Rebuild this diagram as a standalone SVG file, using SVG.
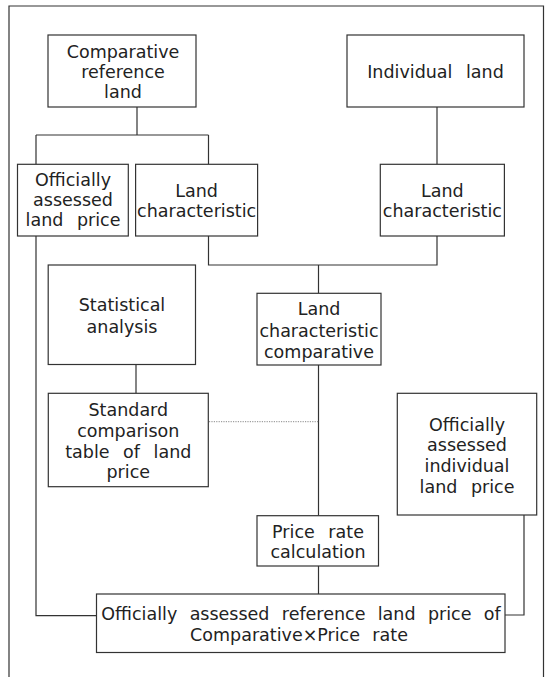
<svg xmlns="http://www.w3.org/2000/svg" width="548" height="677" viewBox="0 0 548 677">
<style>
.box{fill:#fff;stroke:#333;stroke-width:1.2}
.ln{fill:none;stroke:#333;stroke-width:1.2}
.dot{fill:none;stroke:#888;stroke-width:1;stroke-dasharray:1.2 1.2}
text{font-family:"DejaVu Sans","Noto Sans",sans-serif;font-size:17.5px;fill:#222;text-anchor:middle;word-spacing:8px}
.wide{word-spacing:6.8px}
</style>
<rect width="548" height="677" fill="#fff"/>
<path class="ln" d="M9,690 V6 H543.5 V690"/>
<g id="connectors">
<path class="ln" d="M137,107 V135 M36,135 H208.5 M36,135 V164.3 M208.5,135 V164.3"/>
<path class="ln" d="M437,107 V164.3"/>
<path class="ln" d="M36,236 V615.7 H96.5"/>
<path class="ln" d="M208.5,236 V265 H437 V236"/>
<path class="ln" d="M318.5,265 V293.3"/>
<path class="ln" d="M136,364.5 V393.3"/>
<path class="ln" d="M318.5,365 V515.7"/>
<path class="ln" d="M318.5,566 V594"/>
<path class="ln" d="M524,515 V615 H505"/>
<path class="dot" d="M209,421.7 H318.5"/>
</g>
<g id="comparative-reference-land">
<rect class="box" x="48" y="35" width="148" height="72"/>
<text x="123" y="58">Comparative</text>
<text x="123" y="78">reference</text>
<text x="123" y="98">land</text>
</g>
<g id="individual-land">
<rect class="box" x="347" y="35" width="177" height="72"/>
<text x="435.5" y="78">Individual land</text>
</g>
<g id="officially-assessed-land-price">
<rect class="box" x="17.5" y="164.3" width="110.8" height="71.7"/>
<text x="73" y="186">Officially</text>
<text x="73" y="206">assessed</text>
<text x="73" y="226">land price</text>
</g>
<g id="land-characteristic-left">
<rect class="box" x="135.6" y="164.3" width="122" height="71.7"/>
<text x="196.6" y="197">Land</text>
<text x="196.6" y="217">characteristic</text>
</g>
<g id="land-characteristic-right">
<rect class="box" x="380.3" y="164.3" width="124.1" height="71.7"/>
<text x="442.4" y="197">Land</text>
<text x="442.4" y="217">characteristic</text>
</g>
<g id="statistical-analysis">
<rect class="box" x="48.2" y="265" width="147.3" height="99.5"/>
<text x="122" y="311">Statistical</text>
<text x="122" y="332.5">analysis</text>
</g>
<g id="land-characteristic-comparative">
<rect class="box" x="257" y="293.3" width="124" height="71.7"/>
<text x="319" y="315">Land</text>
<text x="319" y="336.5">characteristic</text>
<text x="319" y="357.5">comparative</text>
</g>
<g id="standard-comparison-table">
<rect class="box" x="48.3" y="393.3" width="160" height="93.4"/>
<text x="128.3" y="416">Standard</text>
<text x="128.3" y="436.5">comparison</text>
<text x="128.3" y="457.5">table of land</text>
<text x="128.3" y="478">price</text>
</g>
<g id="officially-assessed-individual-land-price">
<rect class="box" x="397.3" y="393.3" width="139.4" height="121.7"/>
<text x="467" y="431">Officially</text>
<text x="467" y="451">assessed</text>
<text x="467" y="472">individual</text>
<text x="467" y="492.5">land price</text>
</g>
<g id="price-rate-calculation">
<rect class="box" x="257" y="515.7" width="121.5" height="50.3"/>
<text x="318" y="537.5">Price rate</text>
<text x="318" y="557.5">calculation</text>
</g>
<g id="reference-land-price-formula">
<rect class="box" x="96.5" y="594" width="408.5" height="58.5"/>
<text class="wide" x="301" y="619.5">Officially assessed reference land price of</text>
<text class="wide" x="299" y="641">Comparative×Price rate</text>
</g>
</svg>
